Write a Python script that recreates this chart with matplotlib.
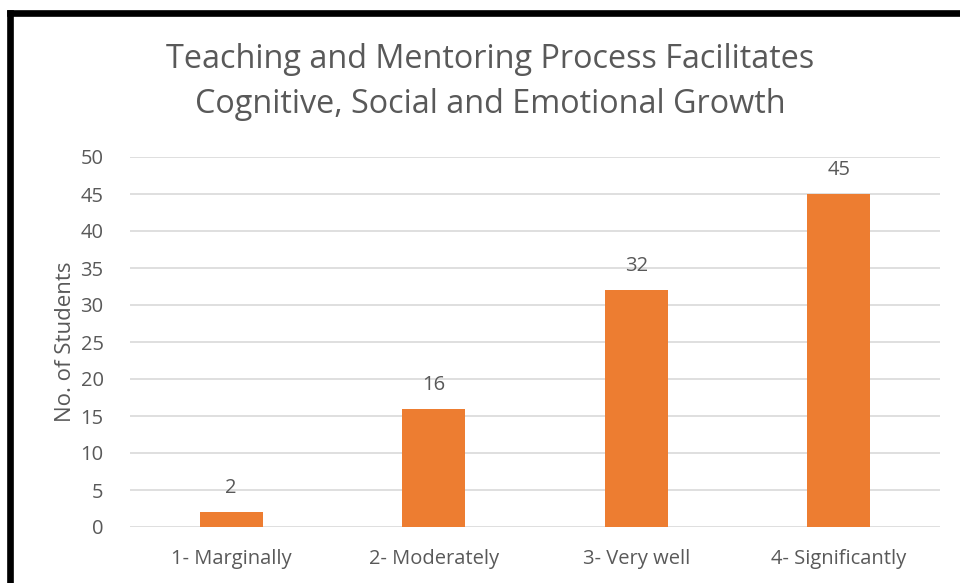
import matplotlib.pyplot as plt
from matplotlib.lines import Line2D

categories = ["1- Marginally", "2- Moderately", "3- Very well", "4- Significantly"]
students = [2, 16, 32, 45]
title = "Teaching and Mentoring Process Facilitates\nCognitive, Social and Emotional Growth"

W, H = 960, 583
grey = "#595959"
orange = "#ED7D31"

plt.rcParams['font.family'] = ['Open Sans', 'DejaVu Sans']

fig = plt.figure(figsize=(W / 100, H / 100), dpi=100)
ax = fig.add_axes([130 / W, 1 - 527 / H, 810 / W, 370 / H])

x = list(range(len(categories)))
bars = ax.bar(x, students, width=0.31, color=orange, zorder=3)
for xi, v in zip(x, students):
    ax.text(xi, v + 1.9, str(v), ha="center", va="bottom", fontsize=14.5, color=grey)

ax.set_xlim(-0.5, len(categories) - 0.5)
ax.set_ylim(0, 50)
ax.set_yticks(range(0, 51, 5))
ax.set_xticks(x)
ax.set_xticklabels(categories)
ax.tick_params(axis="both", length=0, labelsize=14.5, colors=grey)
ax.tick_params(axis="y", pad=19)
ax.tick_params(axis="x", pad=16)
ax.grid(axis="y", color="#D9D9D9", linewidth=1.2, zorder=0)
for s in ax.spines.values():
    s.set_visible(False)
ax.set_ylabel("No. of Students", fontsize=16, color=grey, labelpad=3)

fig.text(490 / W, 1 - 82 / H, title, ha="center", va="center", fontsize=23.3,
         color=grey, linespacing=1.45)

# black frame (left and top edges only visible)
fig.add_artist(Line2D([10 / W, 10 / W], [0, 1 - 12.5 / H], color="black", lw=4.8,
                      transform=fig.transFigure, solid_capstyle="projecting"))
fig.add_artist(Line2D([10 / W, 1], [1 - 12.5 / H, 1 - 12.5 / H], color="black", lw=4.8,
                      transform=fig.transFigure, solid_capstyle="projecting"))

fig.savefig("out.png", dpi=100)
